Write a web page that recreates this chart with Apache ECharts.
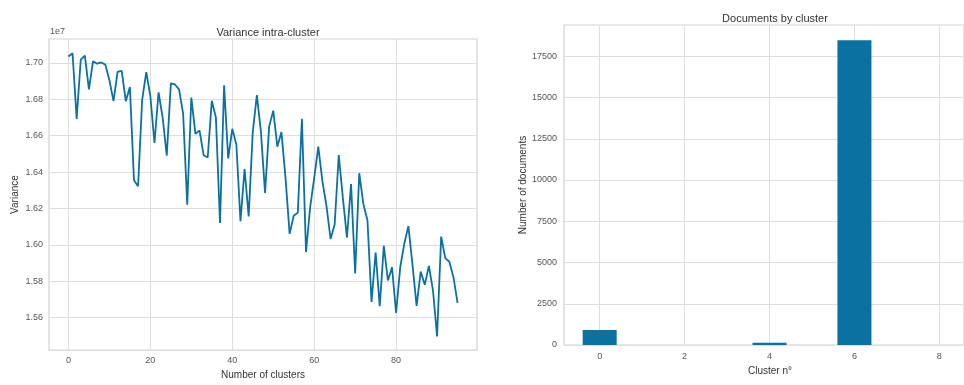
<!DOCTYPE html>
<html>
<head>
<meta charset="utf-8">
<script src="https://cdn.jsdelivr.net/npm/echarts@6/dist/echarts.min.js"></script>
<style>
  html, body { margin: 0; padding: 0; background: #fff; overflow: hidden; }
  #chart { width: 964px; height: 385px; }
</style>
</head>
<body>
<div id="chart"></div>
<script>
// variance per number of clusters, in units of 1e7
const clusterCounts = Array.from({ length: 96 }, (_, i) => i);
const variance = [
  1.7036, 1.7054, 1.6692, 1.7018, 1.7040, 1.6855, 1.7010, 1.6996, 1.7003, 1.6991,
  1.6905, 1.6790, 1.6951, 1.6957, 1.6790, 1.6868, 1.6355, 1.6322, 1.6799, 1.6950,
  1.6817, 1.6560, 1.6839, 1.6700, 1.6490, 1.6888, 1.6882, 1.6855, 1.6720, 1.6221,
  1.6810, 1.6610, 1.6629, 1.6493, 1.6480, 1.6792, 1.6700, 1.6120, 1.6877, 1.6475,
  1.6638, 1.6550, 1.6130, 1.6417, 1.6156, 1.6620, 1.6823, 1.6620, 1.6285, 1.6650,
  1.6738, 1.6540, 1.6620, 1.6367, 1.6060, 1.6160, 1.6177, 1.6693, 1.5960, 1.6204,
  1.6367, 1.6540, 1.6350, 1.6213, 1.6032, 1.6113, 1.6494, 1.6258, 1.6040, 1.6334,
  1.5842, 1.6394, 1.6225, 1.6135, 1.5686, 1.5958, 1.5663, 1.5994, 1.5804, 1.5876,
  1.5626, 1.5876, 1.6007, 1.6103, 1.5890, 1.5664, 1.5853, 1.5780, 1.5884, 1.5750,
  1.5496, 1.6045, 1.5927, 1.5907, 1.5822, 1.5681
];
const varianceXTicks = [0, 20, 40, 60, 80];
const varianceYTicks = [1.56, 1.58, 1.60, 1.62, 1.64, 1.66, 1.68, 1.70];

// documents per cluster
const clusterIds = [0, 1, 2, 3, 4, 5, 6, 7, 8];
const docCounts = [907, 0, 0, 0, 140, 0, 18470, 0, 0];
const clusterXTicks = [0, 2, 4, 6, 8];
const docYTicks = [0, 2500, 5000, 7500, 10000, 12500, 15000, 17500];

const blue = "#0a71a0";
const gridColor = "#dedede";
const font = "Liberation Sans, Arial, sans-serif";
const tickLabel = { color: "#555", fontSize: 9, fontFamily: font };
const axisName = { color: "#333", fontSize: 10, fontFamily: font };
const splitLine = { show: true, lineStyle: { color: gridColor, width: 1 } };

const chart = echarts.init(document.getElementById("chart"), null, { renderer: "canvas" });
chart.setOption({
  animation: false,
  backgroundColor: "#fff",
  title: [
    { text: "Variance intra-cluster", left: 263, top: 22, textAlign: "center", textStyle: { color: "#333", fontSize: 11, fontWeight: "normal", fontFamily: font } },
    { text: "Documents by cluster", left: 770, top: 8, textAlign: "center", textStyle: { color: "#333", fontSize: 11, fontWeight: "normal", fontFamily: font } }
  ],
  graphic: [
    { type: "text", left: 50, top: 27, style: { text: "1e7", fill: "#555", fontSize: 9, fontFamily: font } }
  ],
  grid: [
    { left: 49, width: 428, top: 39, bottom: 31, show: true, borderColor: "#d2d2d2", borderWidth: 1.2, backgroundColor: "#fff" },
    { left: 564, right: 0, top: 25, bottom: 40, show: true, borderColor: "#d2d2d2", borderWidth: 1.2, backgroundColor: "#fff" }
  ],
  xAxis: [
    {
      gridIndex: 0, type: "value", min: -4.75, max: 99.75,
      name: "Number of clusters", nameLocation: "middle", nameGap: 19, nameTextStyle: axisName,
      axisLine: { show: false }, axisTick: { show: false, customValues: varianceXTicks },
      axisLabel: { ...tickLabel, margin: 6, customValues: varianceXTicks },
      splitLine
    },
    {
      // the reference picture is cut off on the right, so the axis stops short of 8.84
      gridIndex: 1, type: "value", min: -0.84, max: 8.58,
      name: "Cluster n°", nameLocation: "middle", nameGap: 20,
      nameTextStyle: { ...axisName, padding: [0, 0, 0, 12] },
      axisLine: { show: false }, axisTick: { show: false, customValues: clusterXTicks },
      axisLabel: { ...tickLabel, margin: 7, customValues: clusterXTicks },
      splitLine
    }
  ],
  yAxis: [
    {
      gridIndex: 0, type: "value", min: 1.5421, max: 1.7132,
      name: "Variance", nameLocation: "middle", nameGap: 29, nameTextStyle: axisName,
      axisLine: { show: false }, axisTick: { show: false, customValues: varianceYTicks },
      axisLabel: { ...tickLabel, margin: 6, customValues: varianceYTicks, formatter: v => v.toFixed(2) },
      splitLine
    },
    {
      gridIndex: 1, type: "value", min: 0, max: 19395,
      name: "Number of documents", nameLocation: "middle", nameGap: 36, nameTextStyle: axisName,
      axisLine: { show: false }, axisTick: { show: false, customValues: docYTicks },
      axisLabel: { ...tickLabel, margin: 7, customValues: docYTicks, formatter: v => String(v) },
      splitLine
    }
  ],
  series: [
    {
      type: "line", xAxisIndex: 0, yAxisIndex: 0,
      data: clusterCounts.map((c, i) => [c, variance[i]]),
      showSymbol: false, lineStyle: { color: blue, width: 1.8 }, itemStyle: { color: blue }
    },
    {
      type: "bar", xAxisIndex: 1, yAxisIndex: 1,
      data: clusterIds.map((c, i) => [c, docCounts[i]]),
      barWidth: 34, itemStyle: { color: blue }
    }
  ]
});
</script>
</body>
</html>
